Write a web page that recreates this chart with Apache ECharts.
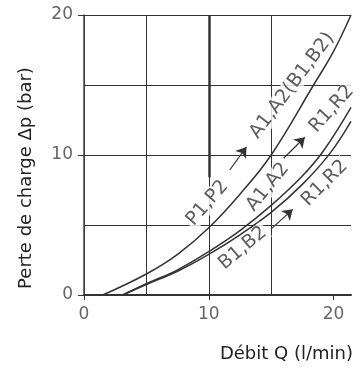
<!DOCTYPE html>
<html>
<head>
<meta charset="utf-8">
<script src="https://cdn.jsdelivr.net/npm/echarts@6/dist/echarts.min.js"></script>
<style>html,body{margin:0;padding:0;background:#fff}#c{width:363px;height:369px}</style>
</head>
<body>
<div id="c"></div>
<script>
// Curve data (flow Q in l/min, pressure drop in bar)
const curvePQ = [[1.5,0],[5,1.5],[7.5,2.9],[10,4.8],[12.5,7.2],[15,10],[18.4,15],[20,17.4],[21.4,20]];
const curveAR = [[3.1,0],[5,0.8],[7.5,1.8],[10,3.1],[12.5,4.6],[15,6.4],[17.5,8.5],[19.2,10.3],[21.4,13.4]];
const curveBR = [[3.1,0],[5,0.75],[7.5,1.7],[10,2.9],[12.5,4.3],[15,5.9],[17.5,7.9],[19.7,10.1],[21.4,12.4]];
const xTickLabels = [0, 10, 20];
const yTickLabels = [0, 10, 20];
// curve annotations: [x, y, text, angle]
const curveLabels = [
  [9.9, 6.56, 'P1,P2', 49],
  [16.68, 14.96, 'A1,A2(B1,B2)', 53],
  [14.73, 7.71, 'A1,A2', 51],
  [19.86, 13.29, 'R1,R2', 48],
  [12.73, 3.34, 'B1,B2', 40],
  [19.30, 7.99, 'R1,R2', 45]
];
// flow direction arrows: [x1, y1, x2, y2]
const arrows = [
  [11.68, 8.93, 13.02, 10.58],
  [16.0, 9.77, 17.7, 11.27],
  [15.05, 4.76, 16.73, 6.12]
];
const thickGrid = [[10, 20], [10, 8.4]];

const chart = echarts.init(document.getElementById('c'), null, {renderer: 'canvas'});
const lineCol = '#333';
const font = 'DejaVu Sans';
const curveSeries = (data) => ({
  type: 'line', data: data, smooth: 0.4, showSymbol: false, symbol: 'none',
  lineStyle: {color: lineCol, width: 1.5}, z: 3, silent: true
});
chart.setOption({
  animation: false,
  grid: {left: 84, right: 12, top: 15, bottom: 74},
  xAxis: {
    type: 'value', min: 0, max: 21.4, interval: 10,
    axisLine: {show: true, onZero: false, lineStyle: {color: lineCol, width: 2}},
    axisTick: {show: true, length: 5, customValues: xTickLabels, lineStyle: {color: lineCol, width: 1}},
    axisLabel: {customValues: xTickLabels, margin: 11, color: '#666', fontSize: 17, fontFamily: font},
    splitLine: {show: true, showMaxLine: false, lineStyle: {color: lineCol, width: 1}},
    minorTick: {show: false, splitNumber: 2},
    minorSplitLine: {show: true, lineStyle: {color: lineCol, width: 1}}
  },
  yAxis: {
    type: 'value', min: 0, max: 20, interval: 10,
    axisLine: {show: true, onZero: false, lineStyle: {color: '#444', width: 1.5}},
    axisTick: {show: true, length: 6, customValues: yTickLabels, lineStyle: {color: lineCol, width: 1}},
    axisLabel: {customValues: yTickLabels, margin: 11, color: '#666', fontSize: 17, fontFamily: font},
    splitLine: {show: true, lineStyle: {color: lineCol, width: 1}},
    minorTick: {show: false, splitNumber: 2},
    minorSplitLine: {show: true, lineStyle: {color: lineCol, width: 1}}
  },
  graphic: [
    {type: 'text', x: 353, y: 354, style: {text: 'Débit Q (l/min)', font: '18px "DejaVu Sans"', fill: '#222', align: 'right', verticalAlign: 'middle'}},
    {type: 'text', x: 26, y: 178, rotation: Math.PI / 2, style: {text: 'Perte de charge Δp (bar)', font: '18px "DejaVu Sans"', fill: '#222', align: 'center', verticalAlign: 'middle'}}
  ],
  series: [
    curveSeries(curvePQ),
    curveSeries(curveAR),
    curveSeries(curveBR),
    {
      type: 'scatter', symbolSize: 0, z: 5, silent: true,
      data: curveLabels.map(l => ({value: [l[0], l[1]], name: l[2],
        label: {show: true, position: 'inside', formatter: l[2], rotate: l[3],
          color: '#333', fontSize: 19, fontFamily: font, backgroundColor: '#fff', padding: [0, 2]}})),
      markLine: {
        silent: true, symbol: ['none', 'arrow'], symbolSize: 10,
        label: {show: false},
        lineStyle: {color: lineCol, width: 1.2, type: 'solid'},
        data: arrows.map(a => [{coord: [a[0], a[1]]}, {coord: [a[2], a[3]]}]).concat([
          [{coord: thickGrid[0], symbol: 'none', lineStyle: {width: 2.5, color: lineCol}},
           {coord: thickGrid[1], symbol: 'none'}]
        ])
      }
    }
  ]
});
</script>
</body>
</html>
